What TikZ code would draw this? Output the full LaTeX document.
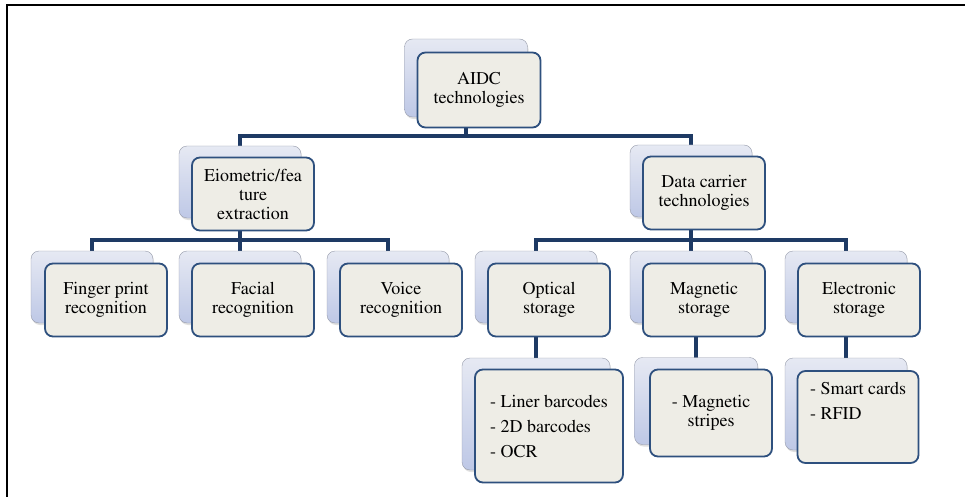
\documentclass[tikz,border=0pt]{standalone}
\usepackage[T1]{fontenc}
\usepackage{mathptmx}
\definecolor{cardedge}{RGB}{46,80,126}
\definecolor{cardfill}{RGB}{238,237,230}
\definecolor{backtop}{RGB}{230,233,243}
\definecolor{backbot}{RGB}{190,200,230}
\definecolor{backedge}{RGB}{150,155,170}
\definecolor{busline}{RGB}{30,58,100}
\usetikzlibrary{backgrounds,shadows}

\begin{document}
\begin{tikzpicture}[x=1pt,y=-1pt,font=\fontsize{18}{19}\selectfont,
        back/.style={draw=backedge,top color=backtop,bottom color=backbot,
          rounded corners=8pt,minimum width=122pt,minimum height=72pt,inner sep=0pt,
          drop shadow={opacity=0.25,shadow xshift=1pt,shadow yshift=-2pt}},
        card/.style={draw=cardedge,line width=1.8pt,fill=cardfill,rounded corners=8pt,
          minimum width=122pt,minimum height=73pt,inner sep=2pt,align=center},
        bus/.style={draw=busline,line width=3.5pt}]
        \useasboundingbox (0,0) rectangle (965,497);
        % frame
        \draw[line width=2.5pt] (7,497) -- (7,5) -- (965,5);
        % level 1
        \node[back,minimum width=123pt,minimum height=78pt] (aidcb) at (466,78) {};
        \node[card,minimum width=123pt,minimum height=75pt] (aidc) at (479,90) {AIDC\\technologies};
        % level 2
        \node[back] (biob) at (240,182) {};
        \node[card] (bio) at (253,194) {Eiometric/fea\\ture\\extraction};
        \node[back] (datab) at (691,181) {};
        \node[card] (data) at (704,193) {Data carrier\\technologies};
        % level 3
        \node[back] (fingerb) at (92,287) {};
        \node[card] (finger) at (106,300) {Finger print\\recognition};
        \node[back] (facialb) at (240,287) {};
        \node[card] (facial) at (253,300) {Facial\\recognition};
        \node[back] (voiceb) at (388,287) {};
        \node[card] (voice) at (401,300) {Voice\\recognition};
        \node[back] (opticalb) at (536,287) {};
        \node[card] (optical) at (549,300) {Optical\\storage};
        \node[back] (magneticb) at (691,287) {};
        \node[card] (magnetic) at (704,300) {Magnetic\\storage};
        \node[back] (electronicb) at (846,287) {};
        \node[card] (electronic) at (859,300) {Electronic\\storage};
        % level 4
        \node[back,minimum width=148pt,minimum height=112pt] (optlistb) at (536,414) {};
        \node[card,minimum width=148pt,minimum height=113pt,align=left,
          font=\fontsize{18}{25}\selectfont] (optlist) at (549,426)
          {- Liner barcodes\\- 2D barcodes\\- OCR};
        \node[back,minimum width=123pt,minimum height=87pt] (stripesb) at (696,401) {};
        \node[card,minimum height=87pt] (stripes) at (711,413) {- Magnetic\\stripes};
        \node[back,minimum height=92pt] (smartb) at (846,404) {};
        \node[card,minimum width=121pt,minimum height=92pt,align=left,
          font=\fontsize{18}{25}\selectfont] (smart) at (858,417)
          {- Smart cards\\- RFID\\\strut};
        % connectors
        \coordinate (bus1) at (466,136);
        \coordinate (bus2) at (240,240);
        \coordinate (bus3) at (691,240);
        \begin{pgfonlayer}{background}
          \draw[bus] (aidcb.center) -- (bus1);
          \draw[bus] (biob.center) |- (bus1) -| (datab.center);
          \draw[bus] (biob.center) -- (facialb.center);
          \draw[bus] (fingerb.center) |- (bus2) -| (voiceb.center);
          \draw[bus] (datab.center) -- (magneticb.center);
          \draw[bus] (opticalb.center) |- (bus3) -| (electronicb.center);
          \draw[bus] (opticalb.center) -- (optlistb.center);
          \draw[bus] (stripesb.center) -- (stripesb.center |- magneticb.center);
          \draw[bus] (electronicb.center) -- (smartb.center);
        \end{pgfonlayer}
      \end{tikzpicture}
\end{document}
